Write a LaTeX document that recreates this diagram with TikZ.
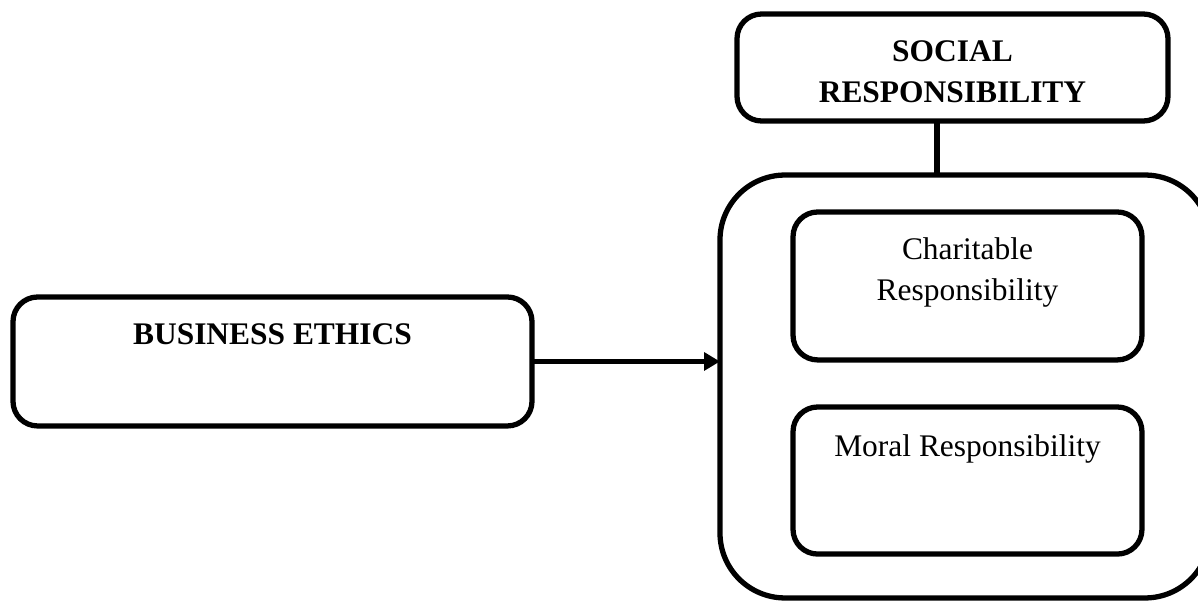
\documentclass[tikz,border=0pt]{standalone}
\usepackage{fontspec}
\setmainfont{Liberation Serif}
\usetikzlibrary{arrows.meta}
\tikzset{rbox/.style = {draw, rounded corners = 14pt, line width = 3pt, inner sep = 0, outer sep = 0, align = center, anchor = north, font = \fontsize{17.9}{22.8}\selectfont}}
\tikzset{frame/.style = {draw, rounded corners = 37pt, line width = 3pt, inner sep = 0, outer sep = 0}}
\tikzset{link/.style = {line width = 3pt, -{Triangle[length = 9pt, width = 10pt]}}}

\begin{document}
\begin{tikzpicture}[x = 0.02cm, y = -0.02cm]
      \useasboundingbox (0, 0) rectangle (1198, 601);
      \node [frame, minimum width = 278.9pt, minimum height = 240.7pt] (sr) at (965, 386.5) {};
      \node [rbox, minimum width = 245.3pt, text height = 50.1pt, text depth = 10.8pt] (social) at (952.5, 14) {\textbf{SOCIAL}\\\textbf{RESPONSIBILITY}};
      \node [rbox, minimum width = 198.6pt, text height = 50.1pt, text depth = 34.1pt] (charity) at (967.5, 212) {Charitable\\Responsibility};
      \node [rbox, minimum width = 198.6pt, text height = 27.9pt, text depth = 55.8pt] (moral) at (967.5, 407) {Moral Responsibility};
      \node [rbox, minimum width = 295.4pt, text height = 27.3pt, text depth = 46.1pt] (ethics) at (272.5, 297) {\textbf{BUSINESS ETHICS}};
      \coordinate (joint) at (937, 0);
      \draw [line width = 3pt] (social.south -| joint) -- (sr.north -| joint);
      \draw [link] (ethics.east) -- (ethics.east -| sr.west);
    \end{tikzpicture}
\end{document}
